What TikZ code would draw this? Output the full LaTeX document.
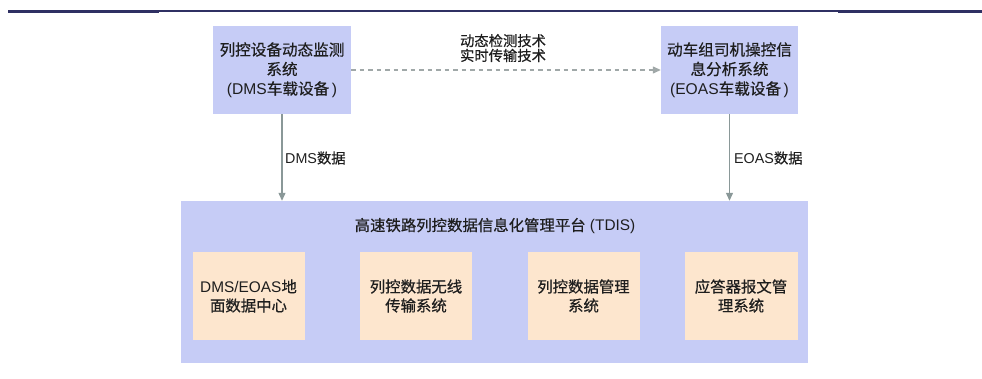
\documentclass[tikz,border=0pt]{standalone}
\usepackage{fontspec}
\setmainfont{Liberation Sans}
\newfontfamily\cjk[FakeBold=0.5]{Noto Sans CJK SC}
\newcommand\C[1]{{\cjk #1}}
\usetikzlibrary{arrows.meta}
\definecolor{navy}{RGB}{47,48,99}
\definecolor{lav}{RGB}{198,204,246}
\definecolor{peach}{RGB}{253,230,206}
\definecolor{arrgray}{RGB}{138,152,152}
\definecolor{dashgray}{RGB}{160,168,168}
\definecolor{txt}{RGB}{30,30,30}
\tikzset{
  topbox/.style={fill=lav, draw=none, minimum width=138, minimum height=88, inner sep=0,
    align=center, text=txt, font=\fontsize{15.6}{19.5}\selectfont},
  innerbox/.style={fill=peach, draw=none, minimum width=112, minimum height=88, inner sep=0,
    align=center, text=txt, font=\fontsize{15.4}{19}\selectfont},
  bigbox/.style={fill=lav, draw=none, minimum width=627, minimum height=162, inner sep=0},
  lbl/.style={text=txt, inner sep=0, align=center, font=\fontsize{14.3}{14.8}\selectfont},
  solidarrow/.style={draw=arrgray, line width=1.2pt, -{Triangle[length=8pt,width=7pt]}},
  dasharrow/.style={draw=dashgray, line width=1.2pt, dash pattern=on 4.5pt off 4pt,
    -{Triangle[length=8pt,width=7pt]}}
}
\begin{document}
\begin{tikzpicture}[x=1pt,y=-1pt]
\useasboundingbox (0,0) rectangle (982,379);
% header rule
\fill[navy] (8,10) rectangle (159,13.2);
\fill[navy] (159,10) rectangle (838,12);
\fill[navy] (838,10) rectangle (982,13.2);
% top boxes
\node[topbox] (dms) at (282,70) {\C{列控设备动态监测}\\\C{系统}\\(DMS\C{车载设备}\,)};
\node[topbox, minimum width=137] (eoas) at (729.5,70) {\C{动车组司机操控信}\\\C{息分析系统}\\(EOAS\C{车载设备}\,)};
% big platform box
\node[bigbox] (tdis) at (494.5,282) {};
\node[lbl, font=\fontsize{15.4}{19}\selectfont] (title) at (495,226) {\C{高速铁路列控数据信息化管理平台} (TDIS)};
\node[innerbox] (b1) at (248.5,296) {DMS/EOAS\C{地}\\\C{面数据中心}};
\node[innerbox] (b2) at (416,296) {\C{列控数据无线}\\\C{传输系统}};
\node[innerbox] (b3) at (583.5,296) {\C{列控数据管理}\\\C{系统}};
\node[innerbox, minimum width=113] (b4) at (741,296) {\C{应答器报文管}\\\C{理系统}};
% connectors
\draw[dasharrow] (dms.east) -- (eoas.west);
\node[lbl] (tech) at (503,48) {\C{动态检测技术}\\\C{实时传输技术}};
\draw[solidarrow] (dms.south) -- (dms.south |- tdis.north);
\draw[solidarrow] (eoas.south) -- (eoas.south |- tdis.north);
\node[lbl, anchor=west] (dmsdata) at (285,158) {DMS\C{数据}};
\node[lbl, anchor=west] (eoasdata) at (734,158) {EOAS\C{数据}};
\end{tikzpicture}
\end{document}
